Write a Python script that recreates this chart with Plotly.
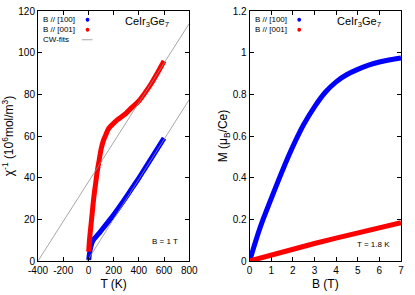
import plotly.graph_objects as go
from plotly.subplots import make_subplots

# inverse susceptibility, B = 1 T
T_100 = [2, 10, 20, 30, 40, 60, 80, 100, 150, 200, 250, 300, 350, 400, 450, 500, 550, 600]
chi_100 = [0.5, 4.0, 7.0, 9.0, 10.2, 11.6, 13.0, 14.5, 18.3, 22.2, 26.4, 30.8, 35.3, 39.8, 44.6, 49.4, 54.2, 59.0]

T_001 = [2, 10, 20, 30, 40, 50, 60, 70, 83, 100, 120, 134, 160, 186, 220, 263, 300, 341, 400, 450, 500, 550, 600]
chi_001 = [4.5, 11.0, 17.0, 23.0, 29.0, 34.0, 38.5, 43.0, 47.5, 53.5, 58.0, 60.0, 63.5, 65.3, 67.3, 69.2, 71.0, 73.5,
           76.8, 80.8, 85.3, 90.5, 96.0]

# Curie-Weiss fit lines (end points)
fit_T_100 = [-10, 800]
fit_chi_100 = [0, 77.5]
fit_T_001 = [-400, 800]
fit_chi_001 = [0, 114]

# magnetization, T = 1.8 K
B_100 = [0, 0.5, 1.0, 1.5, 2.0, 2.5, 3.0, 3.5, 4.0, 4.5, 5.0, 5.5, 6.0, 6.5, 7.0]
M_100 = [0, 0.165, 0.30, 0.43, 0.55, 0.655, 0.74, 0.81, 0.86, 0.895, 0.92, 0.94, 0.955, 0.966, 0.975]
B_001 = [0, 1, 2, 3, 4, 5, 6, 7]
M_001 = [0, 0.03, 0.057, 0.084, 0.11, 0.135, 0.16, 0.184]

T_ticks = [-400, -200, 0, 200, 400, 600, 800]

BLUE = '#0000ff'
RED = '#ff0000'
FONT = 'Liberation Sans, Arial, sans-serif'

fig = make_subplots(rows=1, cols=2, horizontal_spacing=0.166)

fig.add_trace(go.Scatter(x=T_100, y=chi_100, mode='lines', line=dict(color=BLUE, width=5, shape='spline'), showlegend=False), 1, 1)
fig.add_trace(go.Scatter(x=T_001, y=chi_001, mode='lines', line=dict(color=RED, width=5, shape='spline'), showlegend=False), 1, 1)
fig.add_trace(go.Scatter(x=fit_T_100, y=fit_chi_100, mode='lines', line=dict(color='#909090', width=0.8), showlegend=False), 1, 1)
fig.add_trace(go.Scatter(x=fit_T_001, y=fit_chi_001, mode='lines', line=dict(color='#909090', width=0.8), showlegend=False), 1, 1)

fig.add_trace(go.Scatter(x=B_100, y=M_100, mode='lines', line=dict(color=BLUE, width=5, shape='spline'), showlegend=False), 1, 2)
fig.add_trace(go.Scatter(x=B_001, y=M_001, mode='lines', line=dict(color=RED, width=5), showlegend=False), 1, 2)

axis_style = dict(showline=True, linecolor='black', linewidth=1, mirror='allticks', ticks='inside',
                  ticklen=4, tickcolor='black', showgrid=False, zeroline=False,
                  tickfont=dict(size=10, color='black', family=FONT))

fig.update_xaxes(range=[-400, 800], tickvals=T_ticks, ticktext=[str(t) for t in T_ticks],
                 title=dict(text='T (K)', standoff=4), row=1, col=1, **axis_style)
fig.update_yaxes(range=[0, 120], dtick=20, title=dict(text='χ<sup>-1</sup> (10<sup>6</sup>mol/m<sup>3</sup>)', standoff=2),
                 row=1, col=1, **axis_style)
fig.update_xaxes(range=[0, 7], dtick=1, title=dict(text='B (T)', standoff=4), row=1, col=2, **axis_style)
fig.update_yaxes(range=[0, 1.2], dtick=0.2, title=dict(text='M (μ<sub>B</sub>/Ce)', standoff=2),
                 row=1, col=2, **axis_style)
fig.update_xaxes(domain=[0, 0.4167], row=1, col=1)
fig.update_xaxes(domain=[0.583, 1], row=1, col=2)

ann = []
shapes = []
for xr, yr, show_fit in [('x domain', 'y domain', True), ('x2 domain', 'y2 domain', False)]:
    ann.append(dict(text='CeIr<sub>3</sub>Ge<sub>7</sub>', xref=xr, yref=yr, x=0.88, y=0.955,
                    xanchor='right', yanchor='middle', showarrow=False, font=dict(size=11, family=FONT)))
    for i, (lbl, col) in enumerate([('B // [100]', BLUE), ('B // [001]', RED)]):
        yy = 0.965 - i * 0.04
        ann.append(dict(text=lbl, xref=xr, yref=yr, x=0.26, y=yy, xanchor='right', yanchor='middle',
                        showarrow=False, font=dict(size=8, family=FONT)))
        shapes.append(dict(type='circle', xref=xr, yref=yr, x0=0.315, x1=0.34, y0=yy - 0.008, y1=yy + 0.008,
                           fillcolor=col, line=dict(width=0)))
    if show_fit:
        ann.append(dict(text='CW-fits', xref=xr, yref=yr, x=0.22, y=0.885, xanchor='right', yanchor='middle',
                        showarrow=False, font=dict(size=8, family=FONT)))
        shapes.append(dict(type='line', xref=xr, yref=yr, x0=0.29, x1=0.36, y0=0.885, y1=0.885,
                           line=dict(color='#909090', width=0.8)))

ann.append(dict(text='B = 1 T', xref='x domain', yref='y domain', x=0.94, y=0.08, xanchor='right',
                yanchor='middle', showarrow=False, font=dict(size=8, family=FONT)))
ann.append(dict(text='T = 1.8 K', xref='x2 domain', yref='y2 domain', x=0.94, y=0.065, xanchor='right',
                yanchor='middle', showarrow=False, font=dict(size=8, family=FONT)))

fig.update_layout(width=415, height=295, margin=dict(l=38, r=5, t=5, b=34),
                  paper_bgcolor='white', plot_bgcolor='white',
                  font=dict(family=FONT, size=10, color='black'),
                  annotations=ann, shapes=shapes, showlegend=False)

fig.write_html("out.html", config={'displayModeBar': False},
               post_script="document.body.style.margin='0';document.body.style.overflow='hidden';")
